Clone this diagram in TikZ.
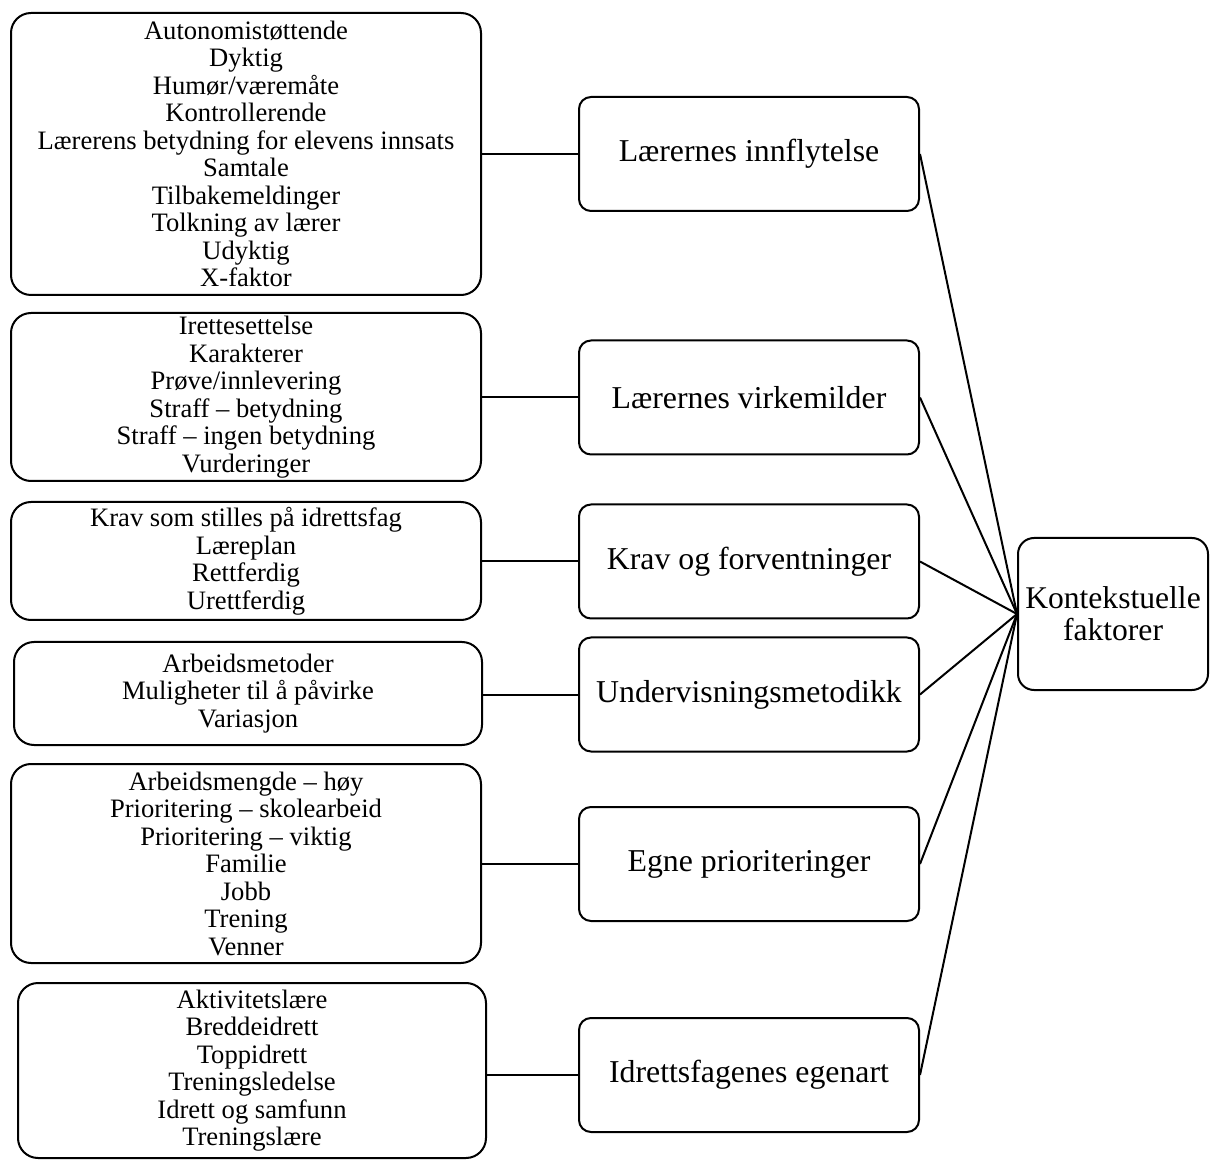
\documentclass[tikz,border=0pt]{standalone}
\usepackage{fontspec}
\setmainfont{Liberation Serif}
\begin{document}
\begin{tikzpicture}[x=0.5pt,y=-0.5pt,line width=1pt,
  listBox/.style={draw, rounded corners=10pt, align=center, inner sep=0pt,
    font=\fontsize{13.3}{13.75}\selectfont},
  themeBox/.style={draw, rounded corners=6pt, align=center, minimum width=170pt,
    minimum height=57pt, inner sep=0pt, font=\fontsize{15.9}{17}\selectfont},
  mainBox/.style={draw, rounded corners=8pt, align=center, minimum width=95pt,
    minimum height=76pt, inner sep=0pt, font=\fontsize{15.8}{16}\selectfont}]
\useasboundingbox (0,0) rectangle (1211,1160);

% venstre kolonne
\node[listBox, minimum width=235pt, minimum height=141pt](listInnflytelse) at (246,154)
  {Autonomistøttende\\Dyktig\\Humør/væremåte\\Kontrollerende\\Lærerens betydning for elevens innsats\\Samtale\\Tilbakemeldinger\\Tolkning av lærer\\Udyktig\\X-faktor};
\node[listBox, minimum width=235pt, minimum height=84pt](listVirkemidler) at (246,397)
  {Irettesettelse\\Karakterer\\Prøve/innlevering\\Straff – betydning\\Straff – ingen betydning\\Vurderinger};
\node[listBox, minimum width=235pt, minimum height=59pt](listKrav) at (246,561)
  {Krav som stilles på idrettsfag\\Læreplan\\Rettferdig\\Urettferdig};
\node[listBox, minimum width=234pt, minimum height=51.5pt](listMetodikk) at (248,693.5)
  {Arbeidsmetoder\\Muligheter til å påvirke\\Variasjon};
\node[listBox, minimum width=235pt, minimum height=99.5pt](listPrioriteringer) at (246,863.5)
  {Arbeidsmengde – høy\\Prioritering – skolearbeid\\Prioritering – viktig\\Familie\\Jobb\\Trening\\Venner};
\node[listBox, minimum width=234pt, minimum height=87.5pt](listEgenart) at (252,1070.5)
  {Aktivitetslære\\Breddeidrett\\Toppidrett\\Treningsledelse\\Idrett og samfunn\\Treningslære};

% midtkolonne
\node[themeBox](innflytelse) at (749,154) {Lærernes innflytelse};
\node[themeBox](virkemidler) at (749,397.5) {Lærernes virkemilder};
\node[themeBox](krav) at (749,561.5) {Krav og forventninger};
\node[themeBox](metodikk) at (749,694.5) {Undervisningsmetodikk};
\node[themeBox](prioriteringer) at (749,864) {Egne prioriteringer};
\node[themeBox](egenart) at (749,1075) {Idrettsfagenes egenart};

% hovedkategori
\node[mainBox](kontekst) at (1113,614) {Kontekstuelle\\faktorer};

\foreach \theme/\list in {innflytelse/listInnflytelse, virkemidler/listVirkemidler,
  krav/listKrav, metodikk/listMetodikk, prioriteringer/listPrioriteringer,
  egenart/listEgenart}{
  \draw (\theme.west) -- (\theme.west -| \list.east);
  \draw (\theme.east) -- (kontekst.west);
}
\end{tikzpicture}
\end{document}
